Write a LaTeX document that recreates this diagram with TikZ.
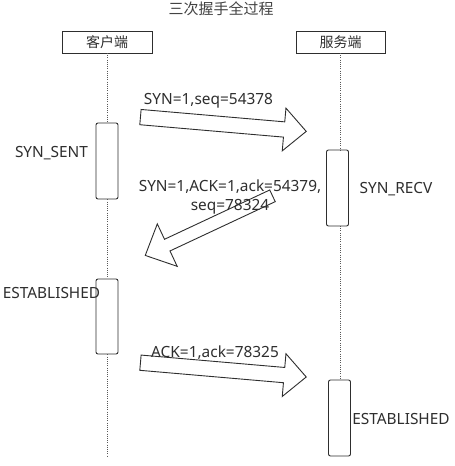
\documentclass[tikz,border=0pt]{standalone}
\usepackage{fontspec}
\setmainfont{Noto Sans}
\newfontfamily\cjkfont{Noto Sans CJK SC}
\usetikzlibrary{shapes.arrows}
\definecolor{ink}{HTML}{2E2E2E}
\begin{document}
\begin{tikzpicture}[x=1pt,y=-1pt,
  every node/.style={text=ink},
  head/.style={draw=ink,line width=0.9pt,minimum width=90pt,minimum height=22pt,inner sep=0pt,font=\cjkfont\fontsize{14}{14}\selectfont},
  act/.style={draw=ink,line width=0.9pt,rounded corners=2pt,minimum width=22pt,inner sep=0pt,fill=white},
  life/.style={draw=ink!80,line width=0.8pt,dash pattern=on 1pt off 1.2pt},
  blk/.style={single arrow,draw=ink,line width=0.9pt,fill=white,inner xsep=0pt,minimum width=0pt,single arrow tip angle=88},
  lbl/.style={font=\fontsize{15.4}{19}\selectfont,inner sep=0pt,anchor=base}]
\useasboundingbox (0,0) rectangle (455,466);
% title
\node[font=\cjkfont\fontsize{15}{15}\selectfont,text=ink!90] (title) at (221,9) {三次握手全过程};
% heads
\node[head] (cbox) at (107,42) {客户端};
\node[head,minimum width=89pt] (sbox) at (340.5,42) {服务端};
% activation boxes
\node[act,minimum height=76pt] (c1) at (107,161) {};
\node[act,minimum height=76pt] (s1) at (337.5,188) {};
\node[act,minimum height=75pt] (c2) at (107,316.5) {};
\node[act,minimum height=76pt] (s2) at (339.5,418) {};
\coordinate (cend) at (107,456);
% lifelines
\draw[life] (107,53) -- (c1.north);
\draw[life] (c1.south) -- (c2.north);
\draw[life] (c2.south) -- (cend);
\draw[life] (340,53) -- (340,150);
\draw[life] (340,226) -- (340,380);
% block arrows
\node[blk,inner ysep=7.2pt,single arrow head extend=13.8pt,minimum height=166.4pt,rotate=-4.93] (a1) at (219.4,123.9) {};
\node[blk,inner ysep=6pt,single arrow head extend=17pt,minimum height=140.5pt,rotate=205.1] (a2) at (211.9,224.2) {};
\node[blk,inner ysep=7.2pt,single arrow head extend=13.8pt,minimum height=166.4pt,rotate=-4.93] (a3) at (219.4,369.5) {};
% labels
\node[lbl] (l1) at (208.5,104) {SYN=1,seq=54378};
\node[lbl] (l2) at (51.5,157) {SYN\_SENT};
\node[lbl] (l3) at (396,193) {SYN\_RECV};
\node[lbl,align=center] (l4) at (230,210) {SYN=1,ACK=1,ack=54379,\\seq=78324};
\node[lbl] (l5) at (51.5,298) {ESTABLISHED};
\node[lbl] (l6) at (215,357) {ACK=1,ack=78325};
\node[lbl] (l7) at (401,424) {ESTABLISHED};
\end{tikzpicture}
\end{document}
